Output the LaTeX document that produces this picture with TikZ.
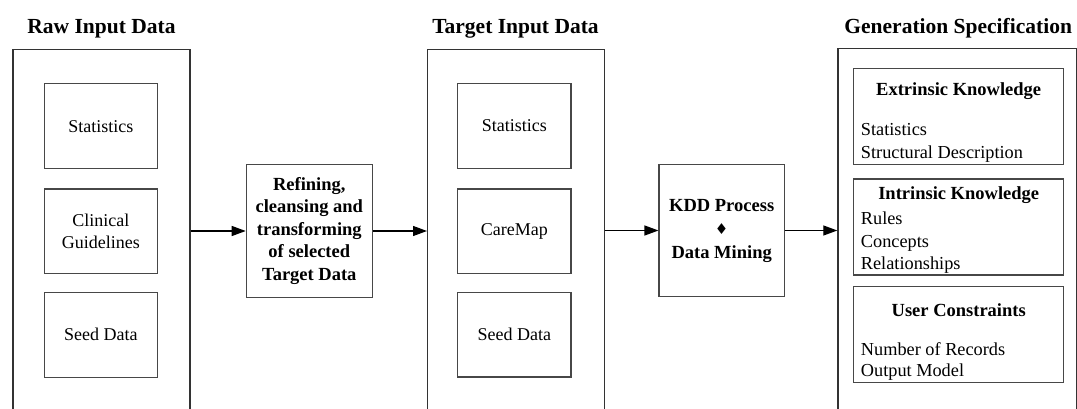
\documentclass[tikz,border=0pt]{standalone}
\usepackage{fontspec}
\setmainfont{Liberation Serif}
\newfontfamily\symfont{DejaVu Sans}
\usetikzlibrary{arrows.meta}
\begin{document}
\begin{tikzpicture}[x=1pt,y=-1pt,
  container/.style={draw=black!80, line width=1.2pt, anchor=north west, inner sep=0pt, minimum height=372},
  box/.style={draw=black!72, line width=1.2pt, inner sep=0pt, align=center, font=\fontsize{18}{22.7}\selectfont},
  boldbox/.style={box, font=\fontsize{18.5}{22.5}\selectfont\bfseries},
  gbox/.style={draw=black!72, line width=1.2pt, inner sep=0pt, minimum width=210},
  title/.style={anchor=base, font=\fontsize{21.5}{24}\selectfont\bfseries},
  head/.style={anchor=base, font=\fontsize{18.5}{22}\selectfont\bfseries},
  item/.style={anchor=base west, inner sep=0pt, font=\fontsize{18.3}{22}\selectfont},
  arr/.style={-{Triangle[length=14pt,width=10pt]}, line width=1.2pt, black}]
\useasboundingbox (0,0) rectangle (1077,409);

% titles
\node[title] (t1) at (101.5,33.3) {Raw Input Data};
\node[title] (t2) at (515.5,33.3) {Target Input Data};
\node[title] (t3) at (958.2,33.3) {Generation Specification};

% containers
\node[container, minimum width=177] (raw) at (12.3,49.3) {};
\node[container, minimum width=176.7] (target) at (427,49.3) {};
\node[container, minimum width=239] (gen) at (837.3,48.3) {};

% raw inner boxes
\node[box, minimum width=113, minimum height=85] (r1) at (100.8,126.2) {Statistics};
\node[box, minimum width=113, minimum height=84.7] (r2) at (100.8,231.3) {Clinical\\Guidelines};
\node[box, minimum width=113, minimum height=85] (r3) at (100.8,334.8) {Seed Data};

% target inner boxes
\node[box, minimum width=113.3, minimum height=84.6] (s1) at (514.3,126) {Statistics};
\node[box, minimum width=113.3, minimum height=84.7] (s2) at (514.3,231.3) {CareMap};
\node[box, minimum width=113.3, minimum height=84.7] (s3) at (514.3,334.7) {Seed Data};

% process boxes
\node[boldbox, minimum width=126, minimum height=133] (refine) at (309.3,231)
  {Refining,\\cleansing and\\transforming\\of selected\\Target Data};
\node[boldbox, font=\fontsize{18.5}{23.5}\selectfont\bfseries, minimum width=125.3, minimum height=132.4] (kdd) at (721.7,230.5)
  {KDD Process\\{\symfont\fontsize{15}{12}\selectfont ♦}\\Data Mining};

% generation inner boxes
\node[gbox, minimum height=95.6] (g1) at (958.7,116.5) {};
\node[gbox, minimum height=96] (g2) at (958.7,227) {};
\node[gbox, minimum height=95.6] (g3) at (958.7,334.5) {};

\node[head] (h1) at (958.7,96) {Extrinsic Knowledge};
\node[item] (i11) at (860.7,135.7) {Statistics};
\node[item] (i12) at (860.7,158.3) {Structural Description};

\node[head] (h2) at (958.7,199.3) {Intrinsic Knowledge};
\node[item] (i21) at (860.7,224) {Rules};
\node[item] (i22) at (860.7,247.3) {Concepts};
\node[item] (i23) at (860.7,269.3) {Relationships};

\node[head] (h3) at (958.7,316.7) {User Constraints};
\node[item] (i31) at (860.7,355) {Number of Records};
\node[item] (i32) at (860.7,376.7) {Output Model};

% arrows
\draw[arr] (raw.east |- refine) -- (refine.west);
\draw[arr] (refine.east) -- (refine.east -| target.west);
\draw[arr] (target.east |- kdd) -- (kdd.west);
\draw[arr] (kdd.east) -- (kdd.east -| gen.west);
\end{tikzpicture}
\end{document}
